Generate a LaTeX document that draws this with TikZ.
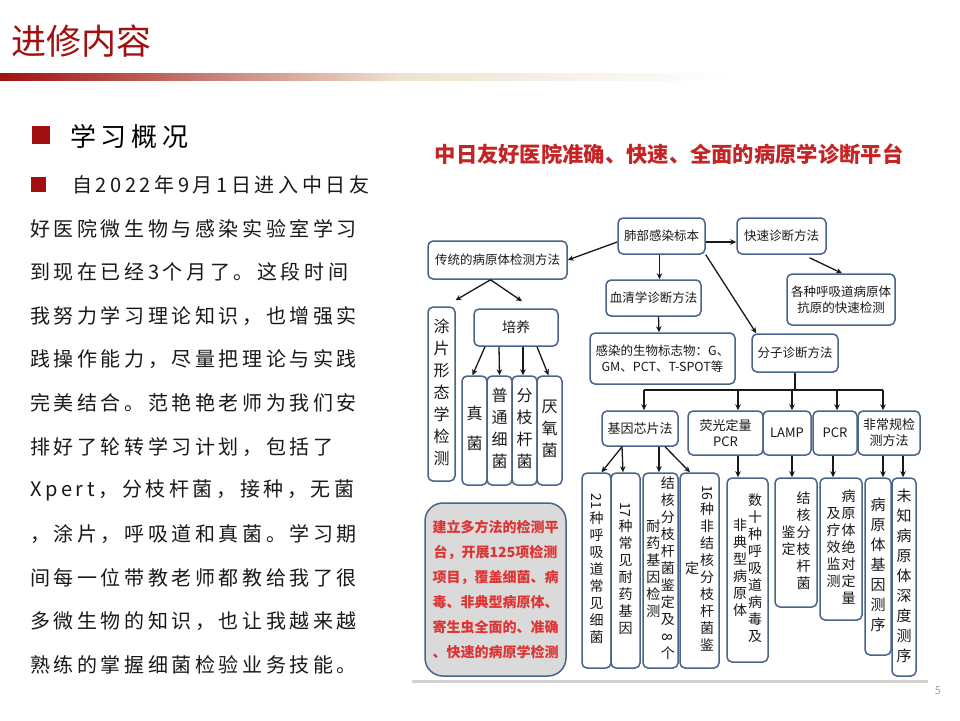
\documentclass[tikz,border=0pt]{standalone}
\usepackage{fontspec}
\usepackage{xcolor}
\usetikzlibrary{arrows.meta}
\setmainfont{Noto Sans CJK SC}
\newfontfamily\cjk{Noto Sans CJK SC}
\newfontfamily\cjkwide[LetterSpace=18]{Noto Sans CJK SC}
\newfontfamily\cjkhead[LetterSpace=18]{Noto Sans CJK SC}
\definecolor{slidered}{RGB}{160,16,16}
\definecolor{barbeige}{RGB}{238,226,208}
\definecolor{boxblue}{RGB}{72,100,138}
\definecolor{titlered}{RGB}{196,36,36}
\definecolor{notered}{RGB}{222,52,52}
\definecolor{notegray}{RGB}{218,218,218}
% one column of upright characters, read top to bottom
\newcommand{\vcol}[1]{\begin{tabular}{@{}c@{}}#1\end{tabular}}
\newcommand{\rdig}[1]{\rotatebox[origin=c]{-90}{#1}}

\begin{document}
\begin{tikzpicture}[x=1pt,y=-1pt,
  box/.style={draw=boxblue,line width=1.5pt,rounded corners=5pt,fill=white,
    inner sep=0pt,align=center,text=black!90,font=\cjk\fontsize{12.5}{16}\selectfont},
  vbox/.style={box,font=\cjk\fontsize{14}{17}\selectfont},
  lbox/.style={box,font=\cjk\fontsize{16}{22}\selectfont},
  arr/.style={-{Stealth[length=6pt,width=5.5pt]},line width=1.3pt,black!90},
  link/.style={line width=1.3pt,black!90},
  bodytxt/.style={anchor=west,inner sep=0pt,text=black!90,font=\cjkwide\fontsize{20}{20}\selectfont}]

  \useasboundingbox (0,0) rectangle (960,720);
  \fill[white] (0,0) rectangle (960,720);

  %% ---- Slide header ----
  \node[anchor=west,inner sep=0pt,text=slidered,font=\cjk\fontsize{35}{35}\selectfont] (title) at (11,41) {进修内容};
  \shade[left color=slidered,right color=barbeige] (0,73) rectangle (400,80);
  \shade[left color=barbeige,right color=white] (400,73) rectangle (730,80);

  %% ---- Left column: text ----
  \fill[slidered] (32,126) rectangle (50,144);
  \node[anchor=west,inner sep=0pt,text=black,font=\cjkhead\fontsize{26}{26}\selectfont] (head) at (70,137) {学习概况};

  \fill[slidered] (31,177) rectangle (46,192);
  \node[bodytxt] (l0) at (72,185) {自2022年9月1日进入中日友};
  \foreach \i/\t in {1/好医院微生物与感染实验室学习, 2/到现在已经3个月了。这段时间,
      3/我努力学习理论知识，也增强实, 4/践操作能力，尽量把理论与实践,
      5/完美结合。范艳艳老师为我们安, 6/排好了轮转学习计划，包括了,
      7/Xpert，分枝杆菌，接种，无菌, 8/，涂片，呼吸道和真菌。学习期,
      9/间每一位带教老师都教给我了很, 10/多微生物的知识，也让我越来越,
      11/熟练的掌握细菌检验业务技能。}
    \node[bodytxt] (l\i) at (30,{185+43.6*\i}) {\t};

  %% ---- Right column: diagnosis platform ----
  \node[text=titlered,font=\cjk\bfseries\fontsize{21.3}{26}\selectfont] (dtitle) at (669,154) {中日友好医院准确、快速、全面的病原学诊断平台};

  % top level
  \node[box,minimum width=87pt,minimum height=36pt] (lung) at (661.5,236) {肺部感染标本};
  \node[box,minimum width=89pt,minimum height=36pt] (rapid) at (781.5,236) {快速诊断方法};
  \node[box,minimum width=139pt,minimum height=38pt] (trad) at (497.5,260) {传统的病原体检测方法};
  \node[box,minimum width=95pt,minimum height=36pt] (serum) at (653.5,298) {血清学诊断方法};
  \node[box,minimum width=108pt,minimum height=51pt] (antigen) at (841,299.5) {各种呼吸道病原体\\抗原的快速检测};
  \node[box,minimum width=145pt,minimum height=51pt] (marker) at (662.5,358.5) {感染的生物标志物：G、\\GM、PCT、T-SPOT等};
  \node[box,minimum width=86pt,minimum height=38pt] (molec) at (795,353) {分子诊断方法};

  % traditional methods
  \node[lbox,minimum width=27pt,minimum height=174pt] (smear) at (441.5,394) {\vcol{涂\\片\\形\\态\\学\\检\\测}};
  \node[box,minimum width=84pt,minimum height=37pt,font=\cjk\fontsize{14}{16}\selectfont] (culture) at (516,327.5) {培养};
  \node[lbox,minimum width=25pt,minimum height=109pt] (fungi) at (474.5,430.5) {\vcol{真\\[8pt]菌}};
  \node[lbox,minimum width=25pt,minimum height=109pt] (bact) at (499.5,430.5) {\vcol{普\\通\\细\\菌}};
  \node[lbox,minimum width=25pt,minimum height=109pt] (myco) at (524.5,430.5) {\vcol{分\\枝\\杆\\菌}};
  \node[lbox,minimum width=25pt,minimum height=109pt] (anaer) at (549.5,430.5) {\vcol{厌\\氧\\菌}};

  \node[box,fill=notegray,rounded corners=18pt,minimum width=141pt,minimum height=173pt,
    text=notered,font=\cjk\bfseries\fontsize{14}{25}\selectfont] (note) at (495.5,589.5)
    {建立多方法的检测平\\台，开展125项检测\\项目，覆盖细菌、病\\毒、非典型病原体、\\寄生虫全面的、准确\\、快速的病原学检测};

  % molecular methods
  \node[box,minimum width=76pt,minimum height=35pt,font=\cjk\fontsize{13}{16}\selectfont] (chip) at (640,428.5) {基因芯片法};
  \node[box,minimum width=75pt,minimum height=44pt,font=\cjk\fontsize{13}{16}\selectfont] (qpcr) at (725.5,433) {荧光定量\\PCR};
  \node[box,minimum width=48pt,minimum height=44pt,font=\cjk\fontsize{13}{16}\selectfont] (lamp) at (787,433) {LAMP};
  \node[box,minimum width=44pt,minimum height=44pt,font=\cjk\fontsize{13}{16}\selectfont] (pcr) at (835,433) {PCR};
  \node[box,minimum width=62pt,minimum height=44pt,font=\cjk\fontsize{13}{16}\selectfont] (unconv) at (889,433) {非常规检\\测方法};

  \node[vbox,minimum width=29pt,minimum height=195pt] (r21) at (596.5,570.5) {\vcol{\rdig{21}\\种\\呼\\吸\\道\\常\\见\\细\\菌}};
  \node[vbox,minimum width=29pt,minimum height=195pt] (r17) at (625.5,570.5) {\vcol{\rdig{17}\\种\\常\\见\\耐\\药\\基\\因}};
  \node[vbox,minimum width=35pt,minimum height=195pt] (rtb) at (660.5,570.5)
    {\vcol{耐\\药\\基\\因\\检\\测}\hspace{0.5pt}\vcol{结\\核\\分\\枝\\杆\\菌\\鉴\\定\\及\\\rdig{8}\\个}};
  \node[vbox,minimum width=39pt,minimum height=195pt] (r16) at (699.5,570.5)
    {\vcol{定}\hspace{1pt}\vcol{\rdig{16}\\种\\非\\结\\核\\分\\枝\\杆\\菌\\鉴}};
  \node[vbox,minimum width=41pt,minimum height=184pt] (rvir) at (747.5,570)
    {\vcol{非\\典\\型\\病\\原\\体}\hspace{1pt}\vcol{数\\十\\种\\呼\\吸\\道\\病\\毒\\及}};
  \node[vbox,minimum width=42pt,minimum height=129pt] (rtbid) at (796,542.5)
    {\vcol{鉴\\定}\hspace{1pt}\vcol{结\\核\\分\\枝\\杆\\菌}};
  \node[vbox,minimum width=42pt,minimum height=142pt] (rquant) at (841,549)
    {\vcol{及\\疗\\效\\监\\测}\hspace{1pt}\vcol{病\\原\\体\\绝\\对\\定\\量}};
  \node[vbox,minimum width=26pt,minimum height=177pt,font=\cjk\fontsize{15}{20}\selectfont] (rseq) at (878,566.5) {\vcol{病\\原\\体\\基\\因\\测\\序}};
  \node[vbox,minimum width=24pt,minimum height=198pt,font=\cjk\fontsize{15}{20}\selectfont] (rdeep) at (904,577) {\vcol{未\\知\\病\\原\\体\\深\\度\\测\\序}};

  % arrows from the specimen box
  \draw[arr] ([yshift=-6pt]lung.west) -- (trad.east);
  \draw[arr] ([yshift=-6pt]lung.east) -- ([yshift=-6pt]rapid.west);
  \draw[arr] ([xshift=-2pt]lung.south) -- ([xshift=-2pt]lung.south |- serum.north);
  \draw[arr] ([xshift=5pt]serum.south) -- ([xshift=-3.5pt]marker.north);
  \draw[arr] (lung.south east) -- ([xshift=5pt]molec.north west);
  \draw[arr] ([xshift=28pt,yshift=-3pt]rapid.south) -- ([xshift=1pt]antigen.north);

  % traditional branch
  \draw[arr] ([xshift=-7pt]trad.south) -- ([xshift=14pt,yshift=6pt]smear.north);
  \draw[arr] ([xshift=-7pt]trad.south) -- ([xshift=6pt,yshift=7pt]culture.north);
  \foreach \sx/\t/\tx in {-31/fungi/-2, -17/bact/0, 7/myco/-1.5, 21/anaer/-1}
    \draw[arr] ([xshift=\sx pt]culture.south) -- ([xshift=\tx pt]\t.north);

  % molecular branch: bus line
  \coordinate (d1) at (644,390);
  \coordinate (d2) at (738,390);
  \coordinate (d3) at (792,390);
  \coordinate (d4) at (837,390);
  \coordinate (d5) at (883,390);
  \draw[link] (molec.south) -- (molec.south |- d1);
  \draw[link] (d1) -- (d5);
  \foreach \d/\n in {d1/chip, d2/qpcr, d3/lamp, d4/pcr, d5/unconv}
    \draw[arr] (\d) -- (\d |- \n.north);

  \foreach \s/\sx/\t/\tx in {chip/-18/r21/5, chip/-18/r17/-2.5, chip/19/rtb/-1.5, chip/25/r16/-9.5,
      qpcr/12.5/rvir/-9.5, lamp/5/rtbid/-4, pcr/-2/rquant/-8, unconv/-6/rseq/5, unconv/14/rdeep/-1}
    \draw[arr] ([xshift=\sx pt]\s.south) -- ([xshift=\tx pt]\t.north);

  % rule under the picture and page number
  \draw[gray!35,line width=3pt] (412,681) -- (928,681);
  \node[text=gray!70,font=\cjk\fontsize{11}{11}\selectfont] (pnum) at (938,691) {5};

\end{tikzpicture}
\end{document}
